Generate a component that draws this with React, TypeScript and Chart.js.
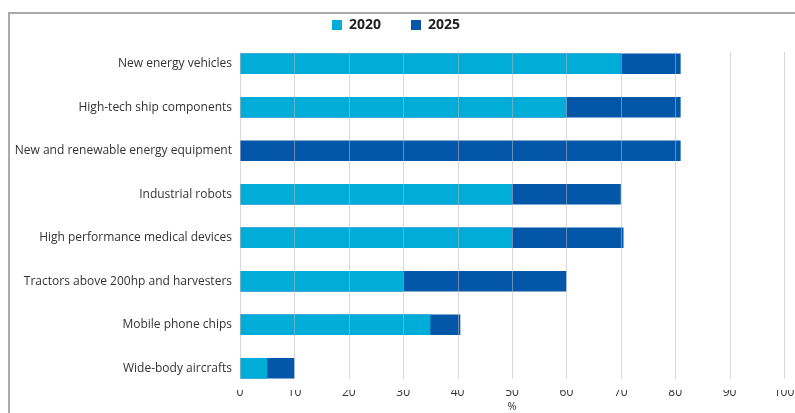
import React, { useEffect, useRef } from 'react';
import { Chart, registerables } from 'chart.js';

Chart.register(...registerables);

const categories = [
  'New energy vehicles',
  'High-tech ship components',
  'New and renewable energy equipment',
  'Industrial robots',
  'High performance medical devices',
  'Tractors above 200hp and harvesters',
  'Mobile phone chips',
  'Wide-body aircrafts',
];
const values2020: (number | null)[] = [70, 60, null, 50, 50, 30, 35, 5];
const values2025: number[] = [81, 81, 81, 70, 70.5, 60, 40.5, 10];
const seriesNames = ['2020', '2025'];
const xMin = 0;
const xMax = 100;
const xStep = 10;
const xTitle = '%';

const FONT = "'Open Sans', 'Noto Sans', sans-serif";

const overGrid = {
  id: 'overGrid',
  afterDatasetsDraw(chart: any) {
    const { ctx, chartArea, scales } = chart;
    const x = scales.x;
    ctx.save();
    ctx.strokeStyle = 'rgba(185,185,185,0.55)';
    ctx.lineWidth = 1;
    x.ticks.forEach((t: any) => {
      const px = Math.round(x.getPixelForValue(t.value)) + 0.5;
      ctx.beginPath();
      ctx.moveTo(px, chartArea.top + 10);
      ctx.lineTo(px, chartArea.bottom - 11);
      ctx.stroke();
    });
    ctx.restore();
  },
};

export default function App() {
  const ref = useRef<HTMLCanvasElement | null>(null);
  useEffect(() => {
    if (!ref.current) return;
    const chart = new Chart(ref.current, {
      type: 'bar',
      data: {
        labels: categories,
        datasets: [
          {
            label: seriesNames[0],
            data: values2020,
            backgroundColor: '#00acd8',
            grouped: false,
            categoryPercentage: 1,
            barPercentage: 0.473,
          } as any,
          {
            label: seriesNames[1],
            data: values2025,
            backgroundColor: '#0457a8',
            grouped: false,
            categoryPercentage: 1,
            barPercentage: 0.473,
          } as any,
        ],
      },
      options: {
        indexAxis: 'y',
        animation: false,
        responsive: true,
        maintainAspectRatio: false,
        layout: { padding: { top: -20, right: 11, bottom: 0, left: 0 } },
        plugins: {
          tooltip: { enabled: false },
          legend: {
            position: 'top',
            labels: {
              boxWidth: 10,
              boxHeight: 10,
              padding: 30,
              color: '#222',
              font: { family: FONT, size: 14, weight: 'bold' },
            },
          } as any,
        },
        scales: {
          x: {
            min: xMin,
            max: xMax,
            grid: { display: false, drawTicks: false },
            border: { display: false },
            ticks: {
              stepSize: xStep,
              padding: -5,
              color: '#333',
              font: { family: FONT, size: 12 },
            },
            title: {
              display: true,
              text: xTitle,
              color: '#333',
              padding: 0,
              font: { family: FONT, size: 11 },
            },
            afterFit: (s: any) => {
              s.height = 23;
            },
          },
          y: {
            grid: { display: false, drawTicks: false },
            border: { display: false },
            ticks: {
              padding: 8,
              color: '#333',
              font: { family: FONT, size: 12 },
            },
            afterFit: (s: any) => {
              s.width = 232;
            },
          },
        },
      },
      plugins: [overGrid],
    });
    return () => chart.destroy();
  }, []);

  return (
    <div>
      <div
        style={{
          position: 'fixed',
          left: 8,
          top: 12,
          right: -20,
          bottom: -20,
          borderTop: '2px solid #aaa',
          borderLeft: '2px solid #aaa',
          pointerEvents: 'none',
        }}
      />
      <div style={{ position: 'fixed', left: 8, top: 8, width: 787, height: 405 }}>
        <canvas ref={ref} />
      </div>
    </div>
  );
}
